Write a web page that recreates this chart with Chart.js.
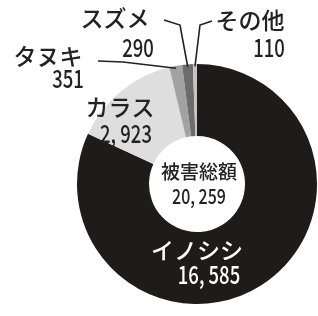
<!DOCTYPE html>
<html>
<head>
<meta charset="utf-8">
<script src="https://cdn.jsdelivr.net/npm/chart.js@4"></script>
<style>
  html, body { margin: 0; padding: 0; background: #fff; }
  #wrap { width: 318px; height: 316px; }
</style>
</head>
<body>
<div id="wrap"><canvas id="damageChart"></canvas></div>
<script>
// 被害額の内訳
var categories = ["イノシシ", "カラス", "タヌキ", "スズメ", "その他"];
var values = [16585, 2923, 351, 290, 110];
var totalTitle = "被害総額";
var sliceColors = ["#1f1b1b", "#dedede", "#a2a2a2", "#6c6c6c", "#c4c4c4"];

function fmt(n) {
    return n.toLocaleString("en-US").replace(",", ", ");
}

var FONT = '"Noto Sans CJK JP", "Noto Sans", sans-serif';

// label layout: [name x, name y, value x, value y, text colour, leader line points or null]
var labelLayout = [
    [197, 250, 209, 274, "#fff", null],
    [120, 107, 126, 133, "#222", null],
    [48, 56, 68, 78, "#222", [[98, 61], [123, 62]]],
    [115, 18, 138, 47, "#222", [[164, 20], [180, 25]]],
    [250, 20, 269, 47, "#222", [[212, 21], [200, 25]]]
];

function drawText(ctx, text, x, y, size, color, sx) {
    ctx.save();
    ctx.translate(x, y);
    ctx.scale(sx, 1);
    ctx.font = "500 " + size + "px " + FONT;
    ctx.fillStyle = color;
    ctx.textAlign = "center";
    ctx.textBaseline = "middle";
    ctx.fillText(text, 0, 0);
    ctx.restore();
}

var labelPlugin = {
    id: "labelPlugin",
    afterDraw: function (chart) {
        var ctx = chart.ctx;
        var arcs = chart.getDatasetMeta(0).data;
        var total = 0;
        for (let v of values) total += v;

        for (let i = 0; i < categories.length; i++) {
            var lay = labelLayout[i];
            var arc = arcs[i].getProps(["x", "y", "startAngle", "endAngle", "outerRadius"], true);
            if (lay[5]) {
                var mid = (arc.startAngle + arc.endAngle) / 2;
                var ex = arc.x + Math.cos(mid) * (arc.outerRadius * 0.98);
                var ey = arc.y + Math.sin(mid) * (arc.outerRadius * 0.98);
                ctx.save();
                ctx.strokeStyle = "#222";
                ctx.lineWidth = 1.6;
                ctx.beginPath();
                ctx.moveTo(lay[5][0][0], lay[5][0][1]);
                ctx.lineTo(lay[5][1][0], lay[5][1][1]);
                ctx.lineTo(ex, ey);
                ctx.stroke();
                ctx.restore();
            }
            drawText(ctx, categories[i], lay[0], lay[1], 23, lay[4], 1);
            drawText(ctx, fmt(values[i]), lay[2], lay[3], 25, lay[4], 0.74);
        }

        var c = arcs[0];
        drawText(ctx, totalTitle, c.x + 2, c.y - 12, 19, "#222", 1);
        drawText(ctx, fmt(total), c.x + 2, c.y + 12, 21, "#222", 0.76);
    }
};

new Chart(document.getElementById("damageChart"), {
    type: "doughnut",
    data: {
        labels: categories,
        datasets: [{
            data: values,
            backgroundColor: sliceColors,
            borderWidth: 0
        }]
    },
    options: {
        responsive: true,
        maintainAspectRatio: false,
        animation: false,
        cutout: "40%",
        layout: { padding: { left: 76, right: 0, top: 64, bottom: 12 } },
        plugins: {
            legend: { display: false },
            tooltip: { enabled: false }
        }
    },
    plugins: [labelPlugin]
});
</script>
</body>
</html>
